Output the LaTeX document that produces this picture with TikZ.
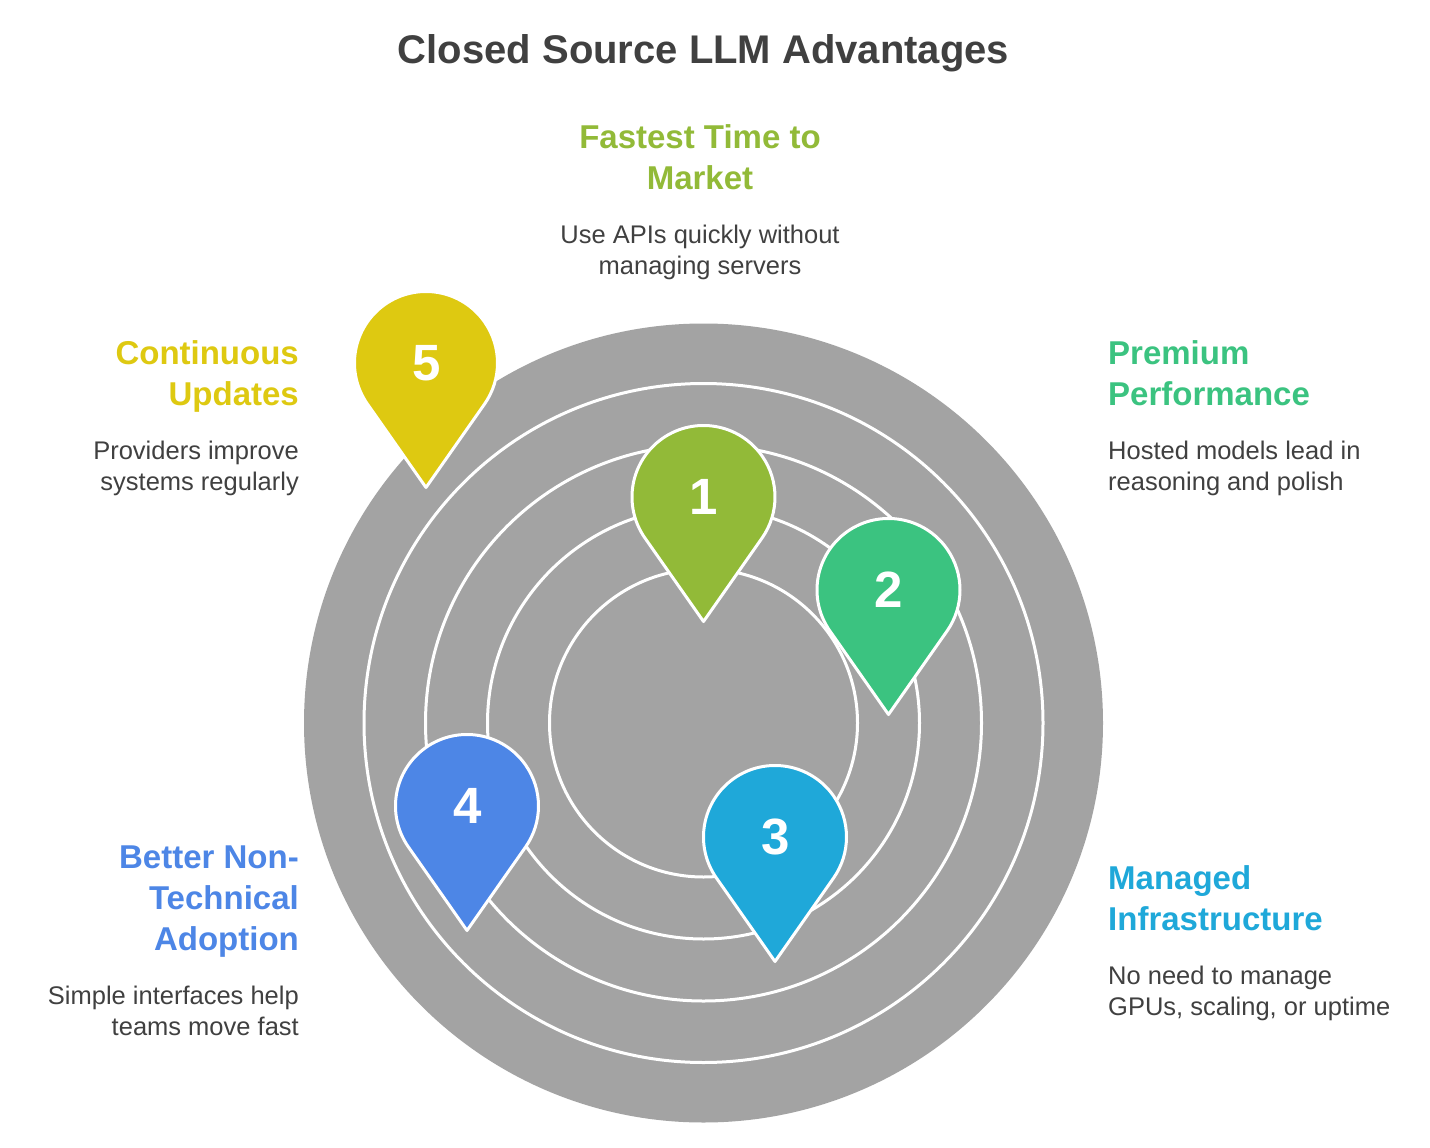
\documentclass[tikz,border=0pt]{standalone}
\usepackage{fontspec}
\setmainfont{Liberation Sans}
\definecolor{ink}{HTML}{404040}
\definecolor{disc}{HTML}{A3A3A3}
\definecolor{cone}{HTML}{92BA38}
\definecolor{ctwo}{HTML}{3BC380}
\definecolor{cthree}{HTML}{1FA8D9}
\definecolor{cfour}{HTML}{4D86E6}
\definecolor{cfive}{HTML}{DEC911}
\tikzset{
  ring/.style={draw=white,line width=3pt},
  pinshape/.style={draw=white,line width=3pt,line join=round},
  pinnum/.style={text=white,font=\bfseries\fontsize{51}{51}\selectfont,inner sep=0pt},
  heading/.style={font=\bfseries\fontsize{33}{41}\selectfont,inner sep=0pt},
  desc/.style={text=ink,font=\fontsize{25.5}{31}\selectfont,inner sep=0pt},
  maintitle/.style={text=ink,font=\bfseries\fontsize{40}{40}\selectfont,inner sep=0pt}
}
\newcommand{\mypin}[5]{% x y colour number name
  \fill[#3,pinshape] (#1,#2) ++(-58.5,41.1) arc[start angle=144.9,end angle=395.1,radius=71.5] -- (#1,#2+124.5) -- cycle;
  \node[pinnum] (#5) at (#1+0.5,#2) {#4};
}
\begin{document}
\begin{tikzpicture}[x=1pt,y=-1pt]
\useasboundingbox (0,0) rectangle (1430,1148);
\fill[white] (0,0) rectangle (1430,1148);
\coordinate (c) at (703.5,723);
\fill[disc] (c) circle[radius=399.5];
\foreach \r in {339.5,278,216,154} \draw[ring] (c) circle[radius=\r];
\mypin{703.5}{497}{cone}{1}{pinone}
\mypin{888.5}{590}{ctwo}{2}{pintwo}
\mypin{775}{837}{cthree}{3}{pinthree}
\mypin{467}{806}{cfour}{4}{pinfour}
\mypin{426}{363}{cfive}{5}{pinfive}
\node[maintitle,anchor=base] (title) at (703.5,64) {Closed Source LLM Advantages};
\node[heading,text=cone,anchor=base,align=center] (h1) at (700,189) {Fastest Time to\\Market};
\node[desc,anchor=base,align=center] (d1) at (700,274) {Use APIs quickly without\\managing servers};
\node[heading,text=ctwo,anchor=base west,align=left] (h2) at (1108,405) {Premium\\Performance};
\node[desc,anchor=base west,align=left] (d2) at (1108,490) {Hosted models lead in\\reasoning and polish};
\node[heading,text=cthree,anchor=base west,align=left] (h3) at (1108,930) {Managed\\Infrastructure};
\node[desc,anchor=base west,align=left] (d3) at (1108,1015) {No need to manage\\GPUs, scaling, or uptime};
\node[heading,text=cfour,anchor=base east,align=right] (h4) at (299,950) {Better Non-\\Technical\\Adoption};
\node[desc,anchor=base east,align=right] (d4) at (299,1035) {Simple interfaces help\\teams move fast};
\node[heading,text=cfive,anchor=base east,align=right] (h5) at (299,405) {Continuous\\Updates};
\node[desc,anchor=base east,align=right] (d5) at (299,490) {Providers improve\\systems regularly};
\end{tikzpicture}
\end{document}
